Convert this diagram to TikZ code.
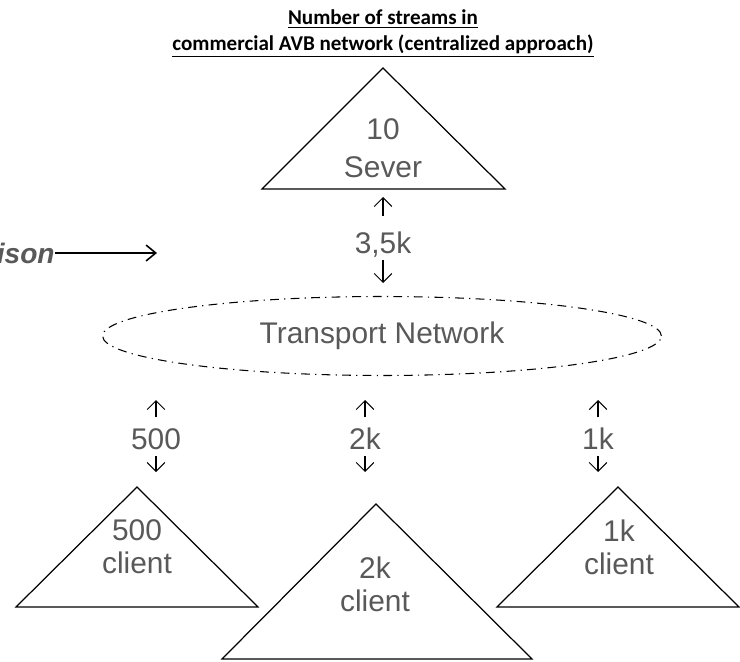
\documentclass[tikz,border=0pt]{standalone}
\usepackage{fontspec}
\setmainfont{Liberation Sans}
\newfontfamily\titlefont{Carlito}
\usetikzlibrary{positioning,shapes.geometric,arrows.meta}
\definecolor{txtgray}{HTML}{595959}

\begin{document}
\begin{tikzpicture}[x=0.02cm, y=-0.02cm, >={Straight Barb[length=5pt,width=10pt]}]
            \tikzstyle{tri}=[draw, line width=0.7pt]
            \tikzstyle{lbl}=[text=txtgray, align=center, inner sep=0pt, font=\fontsize{17}{18.8}\selectfont]
            \tikzstyle{cnt}=[lbl, text height=12.2pt, text depth=0pt]
            \tikzstyle{flow}=[->, line width=0.6pt]
            \useasboundingbox (0,0) rectangle (740,662);

            % Titel
            \node[font=\titlefont\bfseries\fontsize{12}{14.8}\selectfont, align=center, inner sep=0pt] (title) at (383,34)
                {\underline{Number of streams in}\\\underline{commercial AVB network (centralized approach)}};

            % Dreiecke
            \coordinate (srvA) at (383,68);  \coordinate (srvL) at (262,189); \coordinate (srvR) at (505,189);
            \coordinate (c1A) at (137,487);  \coordinate (c1L) at (16,607);   \coordinate (c1R) at (258,607);
            \coordinate (c2A) at (376,504);  \coordinate (c2L) at (222,659);  \coordinate (c2R) at (532,659);
            \coordinate (c3A) at (618,487);  \coordinate (c3L) at (497,607);  \coordinate (c3R) at (739,607);
            \draw[tri] (srvA) -- (srvR) -- (srvL) -- cycle;
            \draw[tri] (c1A) -- (c1R) -- (c1L) -- cycle;
            \draw[tri] (c2A) -- (c2R) -- (c2L) -- cycle;
            \draw[tri] (c3A) -- (c3R) -- (c3L) -- cycle;

            \node[lbl] (srv) at (383,148) {10\\[2.8pt]Sever};
            \node[lbl] (c1) at (137,547) {500\\client};
            \node[lbl] (c2) at (375,584) {2k\\client};
            \node[lbl] (c3) at (619,547) {1k\\client};

            % Netz
            \node[draw, ellipse, line width=0.6pt, dash pattern=on 5pt off 3pt on 0.7pt off 3pt,
                  minimum width=11.18cm, minimum height=1.58cm, text=txtgray,
                  font=\fontsize{17}{18.8}\selectfont] (net) at (382,336) {Transport Network};

            % Anzahl
            \node[cnt] (srvn) at (383,243) {3,5k};
            \node[cnt] (c1n) at (156,439) {500};
            \node[cnt] (c2n) at (365,439) {2k};
            \node[cnt] (c3n) at (598,439) {1k};

            \coordinate (srvup) at (383,197); \coordinate (srvdn) at (383,283);
            \coordinate (c1up) at (156,400);  \coordinate (c1dn) at (156,472);
            \coordinate (c2up) at (365,400);  \coordinate (c2dn) at (365,472);
            \coordinate (c3up) at (598,400);  \coordinate (c3dn) at (598,472);

            % Pfeile
            \draw[flow, shorten <=9pt] (srvn.north) -- (srvup);
            \draw[flow, shorten <=3.5pt] (srvn.south) -- (srvdn);
            \draw[flow, shorten <=6pt] (c1n.north) -- (c1up);
            \draw[flow, shorten <=3.5pt] (c1n.south) -- (c1dn);
            \draw[flow, shorten <=6pt] (c2n.north) -- (c2up);
            \draw[flow, shorten <=3.5pt] (c2n.south) -- (c2dn);
            \draw[flow, shorten <=6pt] (c3n.north) -- (c3up);
            \draw[flow, shorten <=3.5pt] (c3n.south) -- (c3dn);

            % Vergleich
            \coordinate (cmptip) at (157,253);
            \node[anchor=east, inner sep=0pt, text=txtgray, font=\fontsize{16}{18.8}\selectfont\bfseries\itshape] (cmp) at (55,253) {ison};
            \draw[->, line width=0.9pt, >={Straight Barb[length=5.5pt,width=9pt]}] (cmp) -- (cmptip);
        \end{tikzpicture}
\end{document}
